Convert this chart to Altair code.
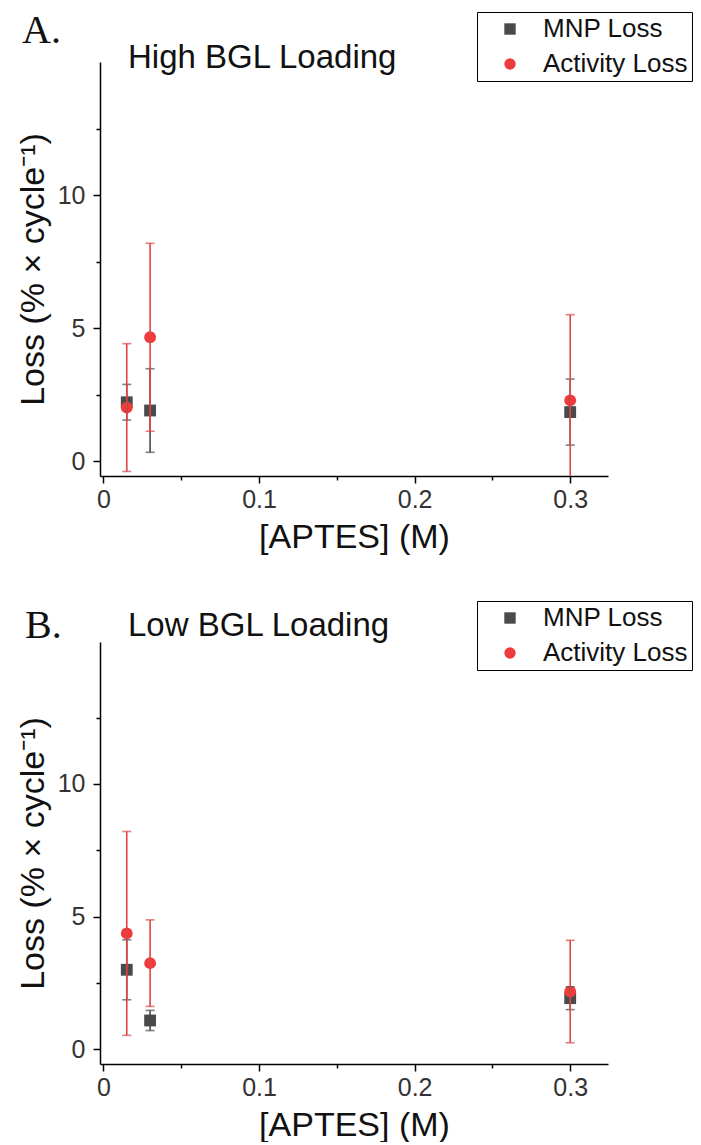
import altair as alt
import pandas as pd

# ---- data ----
aptes = [0.015, 0.03, 0.3]
series_names = ["MNP Loss", "Activity Loss"]

a_mnp = [2.22, 1.91, 1.85]
a_mnp_err = [0.67, 1.57, 1.24]
a_act = [2.02, 4.66, 2.29]
a_act_err = [2.40, 3.53, 3.22]

b_mnp = [3.00, 1.09, 1.93]
b_mnp_err = [1.13, 0.38, 0.43]
b_act = [4.37, 3.25, 2.18]
b_act_err = [3.84, 1.63, 1.93]

x_ticks = [0, 0.05, 0.1, 0.15, 0.2, 0.25, 0.3]
y_ticks = [0, 2.5, 5, 7.5, 10, 12.5]

FONT = "Liberation Sans"
SERIF = "Liberation Serif"
GRAY = "#4a4a4a"
RED = "#ef3b3b"
RED_BAR = "#e04545"


def make_df(mnp, mnp_err, act, act_err):
    rows = []
    for x, v, e in zip(aptes, mnp, mnp_err):
        rows.append({"x": x, "y": v, "lo": v - e, "hi": v + e, "series": series_names[0]})
    for x, v, e in zip(aptes, act, act_err):
        rows.append({"x": x, "y": v, "lo": v - e, "hi": v + e, "series": series_names[1]})
    return pd.DataFrame(rows)


def panel(df, letter, title, ydom, height, legend_y, letter_x, letter_y, title_y):
    xs = alt.Scale(domain=[-0.0022, 0.3243], nice=False, zero=False)
    ys = alt.Scale(domain=ydom, nice=False, zero=False)
    xaxis = alt.Axis(
        values=x_ticks,
        labelExpr="datum.value == 0 ? '0' : (abs(datum.value*10 - round(datum.value*10)) < 1e-6 ? format(datum.value, '.1f') : '')",
        tickSize={"condition": {"test": "abs(datum.value*10 - round(datum.value*10)) < 1e-6", "value": 7}, "value": 4},
        title="[APTES] (M)",
        labelPadding=4,
        titlePadding=8,
    )
    yaxis = alt.Axis(
        values=y_ticks,
        labelExpr="datum.value % 5 === 0 ? format(datum.value, 'd') : ''",
        tickSize={"condition": {"test": "datum.value % 5 === 0", "value": 7}, "value": 4},
        title="Loss (% × cycle⁻¹)",
        labelPadding=8,
        titlePadding=7,
    )
    X = alt.X("x:Q", scale=xs, axis=xaxis)
    base = alt.Chart(df)

    pts = base.mark_point(filled=True, opacity=1, size=140).encode(
        x=X,
        y=alt.Y("y:Q", scale=ys, axis=yaxis),
        color=alt.Color(
            "series:N",
            scale=alt.Scale(domain=series_names, range=[GRAY, RED]),
            legend=alt.Legend(
                orient="none", legendX=377, legendY=legend_y, title=None,
                strokeColor="black", padding=4, rowPadding=9,
                labelFont=FONT, labelFontSize=26, labelColor="#111111",
                symbolSize=130, symbolStrokeWidth=0, symbolOffset=16, labelOffset=20,
            ),
        ),
        shape=alt.Shape(
            "series:N",
            scale=alt.Scale(domain=series_names, range=["square", "circle"]),
            legend=None,
        ),
        order=alt.Order("order_idx:Q"),
    ).transform_calculate(order_idx=f"datum.series == '{series_names[0]}' ? 0 : 1")

    def err_layers(name, color):
        sub = base.transform_filter(alt.datum.series == name)
        rule = sub.mark_rule(color=color, strokeWidth=1.6, clip=True).encode(
            x="x:Q", y="lo:Q", y2="hi:Q"
        )
        caps = sub.transform_fold(["lo", "hi"], as_=["end", "v"]).mark_tick(
            color=color, orient="horizontal", size=9, thickness=1.6, clip=True
        ).encode(x="x:Q", y="v:Q")
        return [rule, caps]

    letter_mark = alt.Chart(pd.DataFrame({"t": [letter]})).mark_text(
        font=SERIF, fontSize=40, align="left", baseline="alphabetic", color="#111111"
    ).encode(x=alt.value(letter_x), y=alt.value(letter_y), text="t:N")
    title_mark = alt.Chart(pd.DataFrame({"t": [title]})).mark_text(
        font=FONT, fontSize=33, align="left", baseline="alphabetic", color="#111111"
    ).encode(x=alt.value(28), y=alt.value(title_y), text="t:N")

    layers = [pts] + err_layers(series_names[0], GRAY) + err_layers(series_names[1], RED_BAR) + [letter_mark, title_mark]
    return alt.layer(*layers).properties(width=508, height=height)


dfA = make_df(a_mnp, a_mnp_err, a_act, a_act_err)
dfB = make_df(b_mnp, b_mnp_err, b_act, b_act_err)

chartA = panel(dfA, "A.", "High BGL Loading", [-0.55, 15.0], 414, -50, -78, -19, 6)
chartB = panel(dfB, "B.", "Low BGL Loading", [-0.55, 15.35], 422, -41, -75, -4, -6)

chart = alt.vconcat(chartA, chartB, spacing=46).resolve_scale(
    color="independent", shape="independent"
).properties(
    padding={"left": 8, "top": 3, "right": 0, "bottom": 0}
).configure_view(stroke=None).configure_axis(
    grid=False,
    domainColor="black", domainWidth=1.5,
    tickColor="black", tickWidth=1.5,
    labelFont=FONT, labelFontSize=25, labelColor="#333333",
    titleFont=FONT, titleFontSize=34, titleFontWeight="normal", titleColor="#111111",
)

chart.save("out.html", embed_options={"renderer": "svg", "actions": False})
